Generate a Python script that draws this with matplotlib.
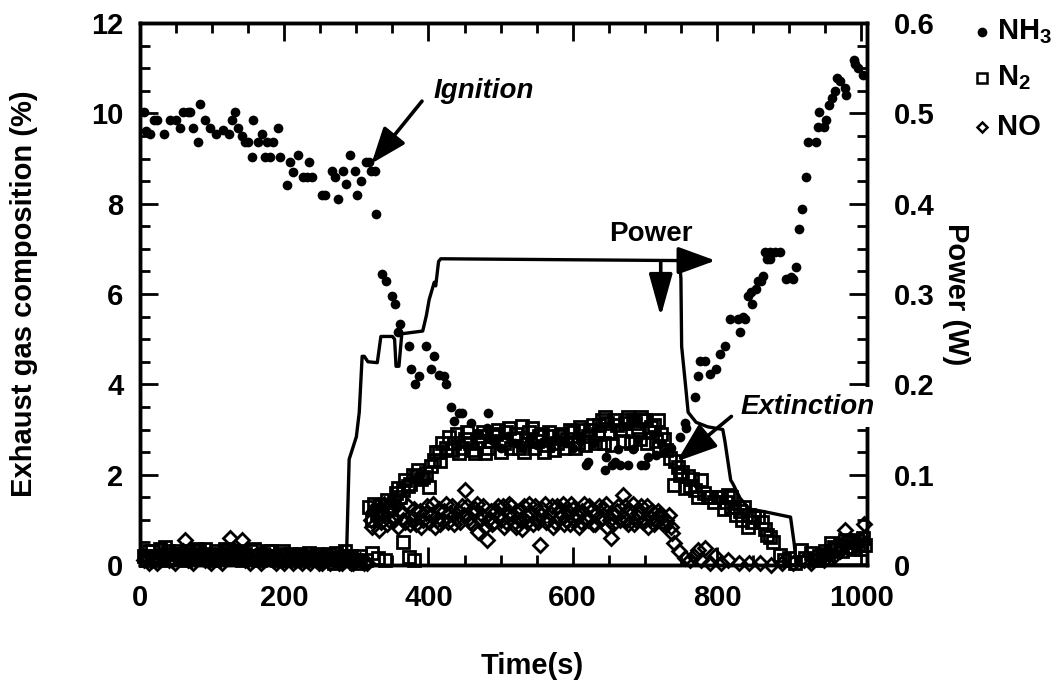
import matplotlib

matplotlib.use("Agg")
import matplotlib.pyplot as plt
from matplotlib.lines import Line2D
from matplotlib.ticker import MultipleLocator, FuncFormatter

plt.rcParams["font.family"] = ["Liberation Sans", "DejaVu Sans"]
plt.rcParams["font.weight"] = "bold"
plt.rcParams["axes.labelweight"] = "bold"
plt.rcParams["mathtext.default"] = "regular"

# ---- data ---------------------------------------------------------------
# NH3 (%), filled dots
nh3_t = [5, 8, 14, 20, 24, 33, 42, 50, 56, 59, 66, 70, 74, 81, 83, 90, 97, 106, 115, 124,
         127, 132, 136, 141, 145, 150, 155, 157, 163, 169, 173, 176, 180, 184, 191, 194,
         204, 208, 212, 219, 226, 231, 235, 238, 252, 256, 266, 270, 274, 281, 286, 291,
         298, 301, 307, 313, 318, 320, 326,
         327, 336, 341, 350, 353, 358, 361, 373, 376, 381, 387, 397, 404, 408, 414, 421,
         424, 431, 435, 442, 447, 459, 481, 483,
         470, 490, 500, 510, 520, 530, 540, 550, 560, 570, 580, 590, 600, 610, 619, 621,
         630, 645, 646, 654, 659, 663, 666, 677, 684, 690, 695, 700, 705, 716, 728, 736,
         749, 756, 757, 770, 773, 776, 784, 790, 798, 804, 811, 818, 829, 832, 836, 839,
         843, 847, 849, 854, 857, 861, 864, 866, 870, 873, 874, 880, 888, 895, 902, 905,
         909, 914, 918, 923, 926, 937, 940, 942, 949, 951, 956, 960, 964, 967, 971, 977,
         979, 990, 992, 995, 1002]
nh3_v = [10.04, 9.6, 9.55, 9.85, 9.85, 9.55, 9.85, 9.85, 9.67, 10.04, 10.04, 10.04, 9.67, 9.36,
         10.2, 9.85, 9.67, 9.55, 9.62, 9.55,
         9.85, 10.04, 9.67, 9.5, 9.36, 9.36, 9.04, 9.85, 9.36, 9.55, 9.04, 9.36, 9.04, 9.36,
         9.68, 9.04,
         8.42, 8.93, 8.7, 9.07, 8.6, 8.6, 8.93, 8.6, 8.2, 8.2, 8.73, 8.6, 8.1, 8.73, 8.44, 9.07,
         8.73, 8.2, 8.5, 8.93, 8.93, 8.73, 8.73,
         7.78, 6.44, 6.29, 5.96, 5.78, 5.15, 5.33, 4.85, 4.33, 4.0, 4.18, 4.85, 4.33, 4.62, 4.2,
         4.18, 4.0, 3.49, 3.18, 3.37, 3.37, 3.15, 3.04, 3.37,
         2.9, 2.75, 2.6, 2.85, 2.7, 2.6, 2.8, 2.65, 2.75, 2.6, 2.8, 2.7, 2.6, 2.75, 2.22, 2.27,
         2.7, 2.11, 2.4, 2.22, 2.27, 2.56, 2.22, 2.22, 2.56, 2.8, 2.22, 2.22, 2.4, 2.44, 2.51,
         2.6,
         2.84, 3.15, 3.04, 3.71, 4.18, 4.51, 4.51, 4.22, 4.33, 4.67, 4.84, 5.44, 5.44, 5.15,
         5.49, 5.44,
         5.96, 6.04, 5.78, 6.11, 6.29, 6.29, 6.4, 6.93, 6.78, 6.78, 6.93, 6.93, 6.93, 6.33,
         6.38, 6.33,
         6.6, 7.44, 7.89, 8.6, 9.36, 9.36, 9.7, 10.04, 9.7, 9.85, 10.18, 10.33, 10.49, 10.78,
         10.71, 10.56,
         10.4, 11.18, 11.1, 11.0, 10.84]

# N2 (%), open squares
n2_t = [5, 12, 20, 28, 35, 43, 50, 58, 66, 74, 82, 90, 98, 106, 114, 122, 130, 138, 146,
        154, 162, 170, 178, 186, 194, 202, 210, 218, 226, 235, 242, 250, 258, 265, 272, 280,
        288, 296, 305, 313, 321, 330, 340, 364, 373, 380,
        9, 16, 24, 32, 39, 47, 54, 62, 70, 78, 86, 94, 102, 110, 118, 126, 134, 142, 150,
        158, 166, 174, 182, 190, 198, 206, 214, 222, 230, 238, 246, 254, 262, 269, 276, 284,
        292, 300,
        318, 325, 329, 336, 342, 348, 355, 360, 368, 375, 382, 390, 397, 401, 408, 414, 419,
        322, 333, 345, 352, 358, 364, 371, 378, 386, 393, 404, 411, 416,
        424, 428, 435, 442, 450, 458, 465, 472, 479, 486, 493, 497, 504, 511, 518, 525, 529,
        536, 543, 550, 557, 564, 571, 578, 585, 592, 600, 607, 614, 621, 628, 635, 640, 645,
        652, 659, 666, 672, 677, 684, 690, 695, 700, 706, 712, 718, 722, 726, 730, 735, 740,
        432, 439, 446, 454, 461, 468, 475, 482, 489, 500, 507, 514, 521, 532, 539, 546, 553,
        560, 567, 574, 581, 588, 596, 603, 610, 617, 624, 631, 637, 643, 648, 655, 662, 669,
        675, 681, 687, 693, 698, 703, 709, 715, 720,
        746, 752, 760, 766, 774, 778, 787, 792, 801, 806, 812, 819, 820, 824, 832, 838, 843,
        845, 852, 857, 862, 870, 873, 887, 900, 916, 930, 936, 942, 950, 958, 965, 970, 977,
        984, 990, 996, 1002,
        742, 749, 756, 763, 770, 782, 796, 810, 815, 827, 835, 848, 866, 878, 893, 908, 922,
        946, 954, 962, 974, 981, 988, 994, 999, 1005]
n2_v = [0.2, 0.3, 0.15, 0.35, 0.4, 0.25, 0.3, 0.2, 0.3, 0.25, 0.3, 0.35, 0.2, 0.3, 0.25, 0.3,
        0.2, 0.3, 0.25, 0.3, 0.2, 0.25, 0.3, 0.2, 0.25, 0.2, 0.25, 0.2, 0.15, 0.27, 0.15, 0.1,
        0.2, 0.15, 0.27, 0.2, 0.15, 0.1, 0.2, 0.1, 0.27, 0.15, 0.1, 0.51, 0.18, 0.1,
        0.1, 0.3, 0.2, 0.1, 0.3, 0.15, 0.25, 0.1, 0.2, 0.35, 0.15, 0.25, 0.1, 0.2, 0.35, 0.15,
        0.25, 0.1, 0.2, 0.35, 0.1, 0.2, 0.3, 0.1, 0.3, 0.1, 0.15, 0.25, 0.1, 0.2, 0.25, 0.1,
        0.25, 0.05, 0.15, 0.3, 0.2, 0.05,
        1.29, 1.35, 1.15, 1.2, 1.44, 1.3, 1.6, 1.5, 1.89, 1.8, 1.96, 1.9, 2.04, 1.73, 2.33,
        2.5, 2.71,
        1.0, 1.3, 1.25, 1.4, 1.7, 1.65, 1.75, 2.0, 2.1, 1.95, 2.2, 2.5, 2.3,
        2.6, 2.84, 2.7, 2.49, 2.8, 2.7, 2.49, 2.85, 2.49, 2.75, 2.9, 3.0, 2.7, 3.04,
        2.8, 2.6, 3.07, 2.8, 3.04, 2.75, 2.9, 2.65, 2.85, 2.7, 2.9, 2.8, 2.95, 2.7, 3.0, 2.85,
        3.1, 2.9, 3.22, 3.27, 2.95, 3.22, 3.0, 3.15, 3.27, 3.22, 3.0, 3.27, 3.22, 2.95, 3.1,
        3.22, 2.9, 2.78, 2.55, 2.38, 1.78,
        2.55, 2.9, 2.6, 2.95, 2.55, 2.75, 2.95, 2.6, 2.85, 2.5, 2.95, 2.6, 2.9, 2.5, 2.95, 2.6,
        2.85, 2.5, 2.95, 2.55, 2.85, 2.6, 3.0, 2.6, 3.05, 2.65, 3.0, 2.7, 3.1, 2.7, 3.15, 2.65,
        3.1, 2.75, 3.2, 2.7, 3.15, 2.8, 3.2, 2.7, 3.05, 2.75, 2.6,
        2.16, 2.05, 1.96, 1.9, 1.51, 1.89, 1.51, 1.51, 1.51, 1.51, 1.4, 1.51, 1.29, 1.29, 1.2,
        1.29, 0.84, 1.1, 1.07, 1.07, 0.95, 0.67, 0.62, 0.22, 0.15, 0.33, 0.27, 0.1, 0.2, 0.3,
        0.49, 0.35, 0.45, 0.56, 0.4, 0.5, 0.45, 0.6,
        2.3, 2.0, 1.7, 1.75, 1.65, 1.6, 1.4, 1.25, 1.55, 1.1, 1.0, 0.95, 0.8, 0.5, 0.1, 0.05,
        0.15, 0.25, 0.15, 0.4, 0.3, 0.5, 0.35, 0.55, 0.35, 0.45]

# NO (%), open diamonds
no_t = [5, 12, 20, 28, 36, 44, 52, 60, 63, 70, 78, 86, 94, 102, 110, 118, 125, 133, 141, 148,
        156, 164, 172, 180, 188, 196, 204, 212, 220, 228, 236, 244, 252, 260, 268, 276, 284,
        292, 300, 310,
        9, 16, 24, 32, 40, 48, 56, 66, 74, 82, 90, 98, 106, 114, 122, 129, 137, 145, 152, 160,
        168, 176, 184, 192, 200, 208, 216, 224, 232, 240, 248, 256, 264, 272, 280, 288, 296,
        305, 315,
        320, 325, 331, 336, 342, 348, 352, 358, 362, 368, 372, 378, 383, 388, 393, 398, 404,
        409, 414, 419, 424, 430, 436, 441, 446, 451, 456, 461, 465, 469, 474, 478, 481, 486,
        491, 496, 500, 505, 510, 515, 520, 525, 530, 535, 540, 545, 550, 554, 558, 563, 568,
        573, 578, 583, 588, 593, 598, 603, 608, 613, 618, 623, 628, 633, 638, 643, 648, 653,
        658, 663, 670, 675, 680, 685, 690, 695, 700, 705, 710, 715, 720, 725, 730, 736, 741,
        322, 328, 334, 339, 345, 355, 365, 375, 380, 390, 396, 401, 406, 412, 416, 421, 427,
        433, 438, 444, 449, 453, 458, 463, 467, 471, 476, 483, 488, 493, 498, 503, 508, 512,
        517, 522, 527, 532, 537, 542, 547, 552, 556, 561, 566, 571, 576, 581, 586, 591, 596,
        601, 606, 611, 616, 621, 626, 631, 636, 641, 646, 651, 656, 661, 666, 672, 677, 683,
        688, 693, 698, 703, 708, 713, 718, 723, 728, 733, 738,
        748, 755, 762, 768, 773, 778, 784, 790, 797, 805, 815, 830, 845, 860, 875, 890, 905,
        920, 930, 940, 948, 955, 962, 970, 977, 985, 992, 1000, 1004]
no_v = [0.1, 0.05, 0.15, 0.1, 0.2, 0.1, 0.15, 0.3, 0.55, 0.1, 0.2, 0.15, 0.1, 0.2, 0.1, 0.25,
        0.6, 0.15, 0.55, 0.2, 0.1, 0.15, 0.1, 0.2, 0.05, 0.1, 0.15, 0.05, 0.1, 0.2, 0.05, 0.1,
        0.05, 0.15, 0.1, 0.05, 0.1, 0.05, 0.1, 0.05,
        0.2, 0.1, 0.05, 0.25, 0.1, 0.05, 0.2, 0.1, 0.05, 0.25, 0.1, 0.05, 0.15, 0.05, 0.2,
        0.35, 0.3, 0.1, 0.05, 0.2, 0.05, 0.15, 0.1, 0.2, 0.05, 0.15, 0.1, 0.05, 0.1, 0.15,
        0.05, 0.1, 0.05, 0.15, 0.05, 0.1, 0.05, 0.1, 0.05,
        1.0, 1.2, 0.78, 1.1, 0.9, 1.25, 1.0, 0.85, 1.2, 0.95, 1.3, 1.05, 0.9, 1.2, 1.0, 1.3,
        1.1, 0.85, 1.25, 1.0, 1.35, 1.15, 0.9, 1.2, 1.3, 1.67, 1.05, 0.9, 1.25, 0.73, 1.1,
        0.85, 0.56, 1.2, 0.95, 1.3, 1.0, 0.85, 1.15, 1.3, 0.95, 1.2, 0.8, 1.1, 1.35, 0.9,
        1.05, 0.44, 1.25, 0.95, 1.15, 0.85, 1.3, 1.05, 0.9, 1.2, 1.35, 1.0, 0.85, 1.2, 1.05,
        1.3, 0.9, 1.15, 1.0, 1.25, 0.85, 0.6, 1.1, 1.3, 1.56, 1.0, 1.2, 0.9, 1.15, 1.3, 1.0,
        0.85, 1.2, 1.0, 1.1, 0.9, 1.0, 0.85, 0.49,
        0.85, 1.3, 0.95, 1.35, 1.0, 1.3, 1.0, 0.9, 1.25, 0.85, 1.15, 0.95, 1.35, 1.0, 0.9,
        1.2, 0.95, 1.3, 1.05, 0.95, 1.1, 1.3, 0.95, 1.15, 1.35, 1.0, 1.3, 1.0, 0.9, 1.2, 1.1,
        1.3, 0.95, 1.35, 1.1, 0.85, 1.0, 1.3, 0.95, 1.15, 1.3, 0.95, 1.1, 1.35, 1.0, 1.3,
        0.95, 1.2, 1.35, 1.0, 0.9, 1.25, 1.1, 0.95, 1.35, 1.0, 1.2, 0.9, 1.3, 1.05, 1.35, 1.0,
        0.9, 1.2, 1.0, 1.3, 0.9, 1.35, 1.0, 1.2, 0.95, 1.3, 1.05, 0.9, 1.2, 1.05, 0.9, 1.1,
        0.7,
        0.3, 0.15, 0.1, 0.2, 0.33, 0.1, 0.38, 0.05, 0.2, 0.05, 0.1, 0.05, 0.05, 0.05, 0.0,
        0.05, 0.05, 0.1, 0.05, 0.15, 0.1, 0.25, 0.2, 0.3, 0.78, 0.4, 0.5, 0.55, 0.9]

# Power (W), solid line on the right axis
pw_t = [0, 286, 290, 300, 304, 308, 311, 316, 329, 334, 350, 353, 355, 359, 363, 392, 397,
        401, 408, 410, 414, 417, 748, 750, 751, 757, 760, 771, 787, 808, 811, 819, 822, 832,
        845, 866, 902, 907, 909, 912, 1008]
pw_v = [0, 0, 0.117, 0.142, 0.169, 0.231, 0.231, 0.225, 0.224, 0.253, 0.253, 0.25, 0.22,
        0.22, 0.256, 0.259, 0.276, 0.294, 0.313, 0.309, 0.336, 0.339, 0.337, 0.317, 0.242,
        0.194, 0.169, 0.158, 0.153, 0.15, 0.137, 0.094, 0.09, 0.074, 0.062, 0.059, 0.053,
        0.024, 0.009, 0, 0]

legend_labels = ["NH$_3$", "N$_2$", "NO"]

# ---- figure -------------------------------------------------------------
fig = plt.figure(figsize=(10.62, 6.81), dpi=100)
ax = fig.add_axes([140 / 1062, 1 - 565 / 681, 727 / 1062, 542 / 681])
ax2 = ax.twinx()

ax.plot(n2_t, n2_v, "s", mfc="none", mec="k", ms=8, mew=2.0, clip_on=False, zorder=3)
ax.plot(no_t, no_v, "D", mfc="none", mec="k", ms=7, mew=2.0, clip_on=False, zorder=3)
ax.plot(nh3_t, nh3_v, "o", color="k", ms=7, mew=0, clip_on=False, zorder=3)
ax2.plot(pw_t, pw_v, color="k", lw=2.4)

ax.set_xlim(0, 1008)
ax.set_ylim(0, 12)
ax2.set_ylim(0, 0.6)

ax.xaxis.set_major_locator(MultipleLocator(200))
ax.xaxis.set_minor_locator(MultipleLocator(50))
ax.yaxis.set_major_locator(MultipleLocator(2))
ax.yaxis.set_minor_locator(MultipleLocator(0.5))
ax2.yaxis.set_major_locator(MultipleLocator(0.1))
ax2.yaxis.set_minor_locator(MultipleLocator(0.025))
ax2.yaxis.set_major_formatter(FuncFormatter(lambda v, _: "0" if abs(v) < 1e-9 else f"{v:.1f}"))

for a in (ax, ax2):
    for s in a.spines.values():
        s.set_linewidth(2.5)
ax.tick_params(which="both", direction="in", top=True, right=False, width=2,
               labelsize=21)
ax.tick_params(which="major", length=13)
ax.tick_params(which="minor", length=7)
ax.tick_params(axis="y", pad=12)
ax.tick_params(axis="x", pad=14)
ax2.tick_params(which="both", direction="in", width=2, labelsize=21, pad=19)
ax2.tick_params(which="major", length=13)
ax2.tick_params(which="minor", length=7)

ax.set_xlabel("Time(s)", fontsize=21, fontweight="bold")
ax.xaxis.set_label_coords(0.539, -0.16)
ax.set_ylabel("Exhaust gas composition (%)", fontsize=21, fontweight="bold")
ax.yaxis.set_label_coords(-0.14, 0.5)
ax2.set_ylabel("Power (W)", fontsize=21, fontweight="bold", rotation=270, labelpad=26)

# ---- annotations ----------------------------------------------------------
arrow_kw = dict(color="k", lw=2.6, shrinkA=0, shrinkB=0)
ax.text(476, 10.5, "Ignition", fontsize=20, style="italic", ha="center", va="center")
ax.annotate("", xy=(321, 8.89), xytext=(391, 10.27),
            arrowprops=dict(arrowstyle="-|>,head_length=1.1,head_width=0.42",
                            mutation_scale=20, **arrow_kw))

ax.text(708, 7.33, "Power", fontsize=20, ha="center", va="center")
ax2.annotate("", xy=(798, 0.337), xytext=(745, 0.337),
             arrowprops=dict(arrowstyle="-|>,head_length=1.15,head_width=0.42",
                             mutation_scale=20, **arrow_kw))
ax.annotate("", xy=(722, 5.5), xytext=(722, 6.73),
            arrowprops=dict(arrowstyle="-|>,head_length=1.3,head_width=0.36",
                            mutation_scale=20, **arrow_kw))

ax2.text(926, 0.1745, "Extinction", fontsize=20, style="italic", ha="center",
         va="center", zorder=10,
         bbox=dict(facecolor="white", edgecolor="none", pad=5))
ax2.annotate("", xy=(744, 0.1145), xytext=(820, 0.1645),
             arrowprops=dict(arrowstyle="-|>,head_length=1.25,head_width=0.45",
                             mutation_scale=20, **arrow_kw), zorder=11)

# ---- legend (outside, top right) ------------------------------------------
styles = [dict(marker="o", color="k", ms=7, mew=0),
          dict(marker="s", mfc="none", mec="k", ms=6.5, mew=1.8),
          dict(marker="D", mfc="none", mec="k", ms=5.5, mew=1.8)]
rows = [1 - 32 / 681, 1 - 78 / 681, 1 - 127 / 681]
for lab, st, yy in zip(legend_labels, styles, rows):
    fig.add_artist(Line2D([982 / 1062], [yy], transform=fig.transFigure,
                          linestyle="none", **st))
    fig.text(997 / 1062, yy, lab, fontsize=21, va="center", ha="left")

fig.savefig("out.png", dpi=100)
